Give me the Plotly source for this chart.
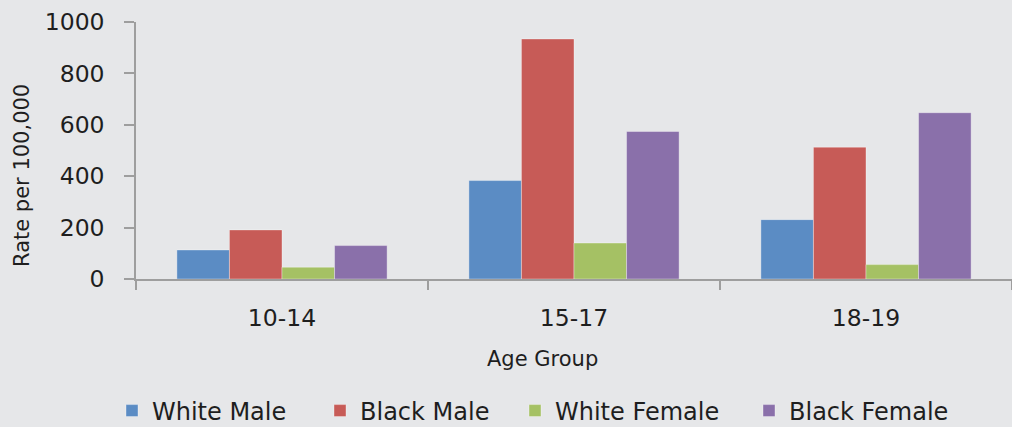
import plotly.graph_objects as go

# Age groups on the x axis
age_groups = ["10-14", "15-17", "18-19"]

# Rate per 100,000 for each group
white_male = [113, 383, 231]
black_male = [191, 934, 513]
white_female = [46, 140, 56]
black_female = [130, 574, 647]

series_names = ["White Male", "Black Male", "White Female", "Black Female"]
series_values = [white_male, black_male, white_female, black_female]
series_colors = ["#5b8cc4", "#c75b57", "#a5c164", "#8a70aa"]

W, H = 1012, 427
M_L, M_R, M_T, M_B = 136, 0, 22, 148
PLOT_W = W - M_L - M_R
PLOT_H = H - M_T - M_B

FONT = "DejaVu Sans"
TEXT = "#1e1e1e"
AXIS = "#9e9e9e"
BG = "#e6e7e9"

# x position (px) where each legend entry's text begins
legend_text_x = [152, 360, 555, 789]
legend_ids = ["legend", "legend2", "legend3", "legend4"]

fig = go.Figure()
for name, vals, col, lg in zip(series_names, series_values, series_colors, legend_ids):
    fig.add_trace(go.Bar(
        x=age_groups, y=vals, name=name, legend=lg,
        marker=dict(color=col, line=dict(color="rgba(255,255,255,0.35)", width=1)),
    ))

legend_common = dict(
    orientation="h", xref="container", yref="container",
    xanchor="left", yanchor="middle", bgcolor="rgba(0,0,0,0)",
    font=dict(family=FONT, size=24, color=TEXT), borderwidth=0,
)
legend_layout = {}
for lg, tx in zip(legend_ids, legend_text_x):
    legend_layout[lg] = dict(legend_common, x=(tx - 40) / W, y=1 - 411 / H)

fig.update_layout(
    width=W, height=H,
    margin=dict(l=M_L, r=M_R, t=M_T, b=M_B),
    paper_bgcolor=BG, plot_bgcolor=BG,
    barmode="group", bargap=0.28, bargroupgap=0,
    showlegend=True,
    font=dict(family=FONT, color=TEXT),
    xaxis=dict(
        type="category", tickson="boundaries", ticks="outside", ticklen=9,
        tickcolor=AXIS, tickwidth=1.5, showline=True, linecolor=AXIS, linewidth=1.5,
        showgrid=False, tickfont=dict(family=FONT, size=23.5, color=TEXT),
        ticklabelstandoff=17,
    ),
    yaxis=dict(
        range=[0, 1000], dtick=200, ticks="outside", ticklen=10,
        tickcolor=AXIS, tickwidth=1.5, showline=True, linecolor=AXIS, linewidth=1.5,
        showgrid=False, zeroline=False, tickfont=dict(family=FONT, size=23.5, color=TEXT),
        ticklabelstandoff=15,
    ),
    annotations=[
        dict(text="Age Group", xref="paper", yref="paper",
             x=(542 - M_L) / PLOT_W, y=(M_T + PLOT_H - 359) / PLOT_H,
             xanchor="center", yanchor="middle", showarrow=False,
             font=dict(family=FONT, size=21, color=TEXT)),
        dict(text="Rate per 100,000", xref="paper", yref="paper", textangle=-90,
             x=(22 - M_L) / PLOT_W, y=(M_T + PLOT_H - 176) / PLOT_H,
             xanchor="center", yanchor="middle", showarrow=False,
             font=dict(family=FONT, size=21, color=TEXT)),
    ],
    **legend_layout,
)

fig.write_html("out.html")
